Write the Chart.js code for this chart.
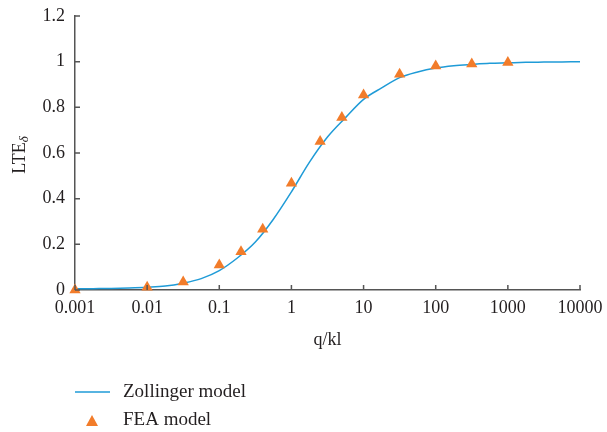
<!DOCTYPE html>
<html>
<head>
<meta charset="utf-8">
<script src="https://cdn.jsdelivr.net/npm/chart.js@4"></script>
<style>
    html, body { margin: 0; padding: 0; background: #fff; }
    #wrap { width: 607px; height: 432px; }
</style>
</head>
<body>
<div id="wrap"><canvas id="chart" width="607" height="432"></canvas></div>
<script>
// Zollinger model curve
const modelQ = [0.001, 0.00178, 0.00316, 0.00562, 0.01, 0.0178, 0.0316, 0.0562, 0.1, 0.178, 0.316, 0.562,
    1, 1.78, 3.16, 5.62, 10, 17.8, 31.6, 56.2, 100, 178, 316, 562, 1000, 1778, 3162, 5623, 10000]
const modelLTE = [0.005, 0.006, 0.007, 0.009, 0.012, 0.017, 0.03, 0.05, 0.085, 0.14, 0.21, 0.31,
    0.43, 0.56, 0.67, 0.755, 0.835, 0.885, 0.93, 0.955, 0.972, 0.982, 0.988, 0.993, 0.995, 0.997, 0.998, 0.999, 1.0]

// FEA model points
const feaQ = [0.001, 0.01, 0.0316, 0.1, 0.2, 0.4, 1, 2.5, 5, 10, 31.6, 100, 316, 1000]
const feaLTE = [0.0, 0.012, 0.035, 0.11, 0.168, 0.266, 0.467, 0.65, 0.755, 0.854, 0.945, 0.981, 0.99, 0.996]

const xTicks = [0.001, 0.01, 0.1, 1, 10, 100, 1000, 10000]
const yTicks = [0, 0.2, 0.4, 0.6, 0.8, 1, 1.2]

const FONT = '"Liberation Serif", "DejaVu Serif", serif'
const INK = '#231f20'
const AXIS = '#555555'
const BLUE = '#1f9bd7'
const ORANGE = '#f27c2a'

//Подписи осей, засечки внутрь и легенда.
const extras = {
    id: 'extras',
    afterDraw(chart) {
        const ctx = chart.ctx
        const xs = chart.scales.x
        const ys = chart.scales.y
        const area = chart.chartArea
        ctx.save()

        // inside tick marks
        ctx.strokeStyle = AXIS
        ctx.lineWidth = 1.5
        ctx.beginPath()
        xTicks.forEach(v => {
            const px = xs.getPixelForValue(v)
            ctx.moveTo(px, area.bottom)
            ctx.lineTo(px, area.bottom - 5)
        })
        yTicks.forEach(v => {
            const py = ys.getPixelForValue(v)
            ctx.moveTo(area.left, py)
            ctx.lineTo(area.left + 5, py)
        })
        ctx.stroke()

        // x title
        ctx.fillStyle = INK
        ctx.font = '18px ' + FONT
        ctx.textAlign = 'center'
        ctx.textBaseline = 'middle'
        ctx.fillText('q/kl', (area.left + area.right) / 2, 340)

        // y title with subscript
        ctx.save()
        ctx.translate(20, 155)
        ctx.rotate(-Math.PI / 2)
        ctx.font = '18px ' + FONT
        const w1 = ctx.measureText('LTE').width
        ctx.font = 'italic 13px ' + FONT
        const w2 = ctx.measureText('δ').width
        const start = -(w1 + w2) / 2
        ctx.textAlign = 'left'
        ctx.font = '18px ' + FONT
        ctx.fillText('LTE', start, 0)
        ctx.font = 'italic 13px ' + FONT
        ctx.fillText('δ', start + w1, 5)
        ctx.restore()

        // legend
        ctx.strokeStyle = BLUE
        ctx.lineWidth = 1.5
        ctx.beginPath()
        ctx.moveTo(75, 392)
        ctx.lineTo(110, 392)
        ctx.stroke()
        ctx.fillStyle = ORANGE
        ctx.beginPath()
        ctx.moveTo(92, 415)
        ctx.lineTo(98, 426)
        ctx.lineTo(86, 426)
        ctx.closePath()
        ctx.fill()
        ctx.fillStyle = INK
        ctx.font = '19px ' + FONT
        ctx.textAlign = 'left'
        ctx.fillText('Zollinger model', 123, 392)
        ctx.fillText('FEA model', 123, 420)
        ctx.restore()
    }
}

new Chart(document.getElementById('chart'), {
    type: 'scatter',
    data: {
        datasets: [
            {
                label: 'FEA model',
                data: feaQ.map((q, i) => ({x: q, y: feaLTE[i]})),
                pointStyle: 'triangle',
                pointRadius: 6.5,
                backgroundColor: ORANGE,
                borderColor: ORANGE,
                borderWidth: 0,
                showLine: false,
                clip: false,
            },
            {
                label: 'Zollinger model',
                data: modelQ.map((q, i) => ({x: q, y: modelLTE[i]})),
                showLine: true,
                borderColor: BLUE,
                borderWidth: 1.5,
                pointRadius: 0,
                cubicInterpolationMode: 'monotone',
                fill: false,
            }
        ]
    },
    options: {
        responsive: false,
        animation: false,
        layout: {
            padding: {top: 16, right: 27, left: 0, bottom: 0}
        },
        plugins: {
            legend: {display: false},
            tooltip: {enabled: false}
        },
        scales: {
            x: {
                type: 'logarithmic',
                min: 0.001,
                max: 10000,
                afterBuildTicks: scale => { scale.ticks = xTicks.map(v => ({value: v})) },
                afterFit: scale => {
                    scale.height = 142
                    scale.paddingLeft = 0
                    scale.paddingRight = 0
                },
                grid: {display: false, drawTicks: false},
                border: {display: true, color: AXIS, width: 1.5},
                ticks: {
                    color: INK,
                    font: {family: FONT, size: 18},
                    padding: 7,
                    maxRotation: 0,
                    autoSkip: false,
                    callback: v => String(v)
                }
            },
            y: {
                min: 0,
                max: 1.2,
                afterBuildTicks: scale => { scale.ticks = yTicks.map(v => ({value: v})) },
                afterFit: scale => {
                    scale.width = 75
                    scale.paddingTop = 0
                    scale.paddingBottom = 0
                },
                grid: {display: false, drawTicks: false},
                border: {display: true, color: AXIS, width: 1.5},
                ticks: {
                    color: INK,
                    font: {family: FONT, size: 18},
                    padding: 10,
                    callback: v => String(Number(v.toFixed(1)))
                }
            }
        }
    },
    plugins: [extras]
})
</script>
</body>
</html>
